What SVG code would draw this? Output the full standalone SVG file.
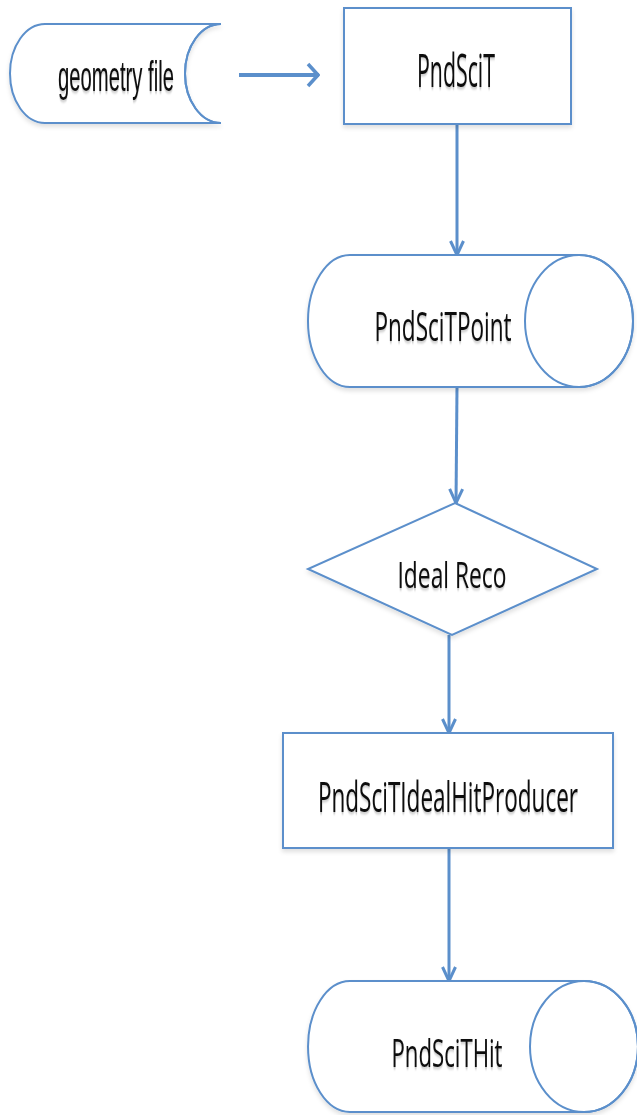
<svg xmlns="http://www.w3.org/2000/svg" width="637" height="1115" viewBox="0 0 637 1115">
  <style>
    .shape { fill: #ffffff; stroke: #5b8fcb; stroke-width: 2; filter: url(#soft); }
    .rim { fill: none; stroke: #5b8fcb; stroke-width: 2; }
    .edge { fill: none; stroke: #5b8fcb; stroke-width: 3; marker-end: url(#chev-v); }
    .edge-h { fill: none; stroke: #5b8fcb; stroke-width: 4; marker-end: url(#chev-h); }
    .lbl { fill: #111111; font-family: "Open Sans", "Noto Sans", sans-serif; text-anchor: middle; filter: url(#tshadow); }
    .lbl-arial { fill: #111111; font-family: "Liberation Sans", Arial, sans-serif; text-anchor: middle; filter: url(#tshadow); }
  </style>
  <defs>
    <filter id="soft" x="-10%" y="-10%" width="120%" height="130%">
      <feDropShadow dx="0" dy="3" stdDeviation="2" flood-color="#000000" flood-opacity="0.12"/>
    </filter>
    <filter id="tshadow" x="-10%" y="-20%" width="120%" height="160%">
      <feDropShadow dx="0" dy="2" stdDeviation="1.5" flood-color="#000000" flood-opacity="0.25"/>
    </filter>
    <!-- open chevron heads, sized in user units -->
    <marker id="chev-v" viewBox="0 0 18 16" refX="17" refY="8" markerWidth="18" markerHeight="16" markerUnits="userSpaceOnUse" orient="auto">
      <path d="M2,1.5 L16,8 L2,14.5" fill="none" stroke="#5b8fcb" stroke-width="3" stroke-linejoin="miter"/>
    </marker>
    <marker id="chev-h" viewBox="0 0 14 26" refX="13" refY="13" markerWidth="14" markerHeight="26" markerUnits="userSpaceOnUse" orient="auto">
      <path d="M2,2 L12,13 L2,24" fill="none" stroke="#5b8fcb" stroke-width="3.5" stroke-linejoin="miter"/>
    </marker>
  </defs>

  <!-- connectors -->
  <g id="connectors">
    <line class="edge-h" x1="239" y1="75" x2="319" y2="75"/>
    <line class="edge" x1="457" y1="124" x2="457" y2="256"/>
    <line class="edge" x1="457" y1="387" x2="456" y2="504"/>
    <line class="edge" x1="449" y1="635" x2="449" y2="734"/>
    <line class="edge" x1="449" y1="848" x2="449" y2="982"/>
  </g>

  <!-- stored data: geometry file -->
  <g id="geometry-file">
    <path class="shape" d="M221,24 L45,24 A35,49.5 0 0 0 45,123 L221,123 A36,49.5 0 0 1 221,24 Z"/>
    <path class="rim" d="M221,24 A36,49.5 0 0 0 221,123"/>
    <g transform="translate(116,91) scale(0.5,1)">
      <text class="lbl-arial" x="0" y="0" font-size="42" textLength="232" lengthAdjust="spacingAndGlyphs">geometry file</text>
    </g>
  </g>

  <!-- process: PndSciT -->
  <g id="pndscit">
    <rect class="shape" x="344" y="8" width="227" height="116"/>
    <g transform="translate(456,87) scale(0.5,1)">
      <text class="lbl" x="0" y="0" font-size="45" textLength="156" lengthAdjust="spacingAndGlyphs">PndSciT</text>
    </g>
  </g>

  <!-- direct-access storage: PndSciTPoint -->
  <g id="pndscitpoint">
    <path class="shape" d="M350,255 L579,255 A54,66 0 0 1 579,387 L350,387 A42,66 0 0 1 350,255 Z"/>
    <ellipse class="rim" cx="579" cy="321" rx="54" ry="66"/>
    <g transform="translate(443,341) scale(0.5,1)">
      <text class="lbl" x="0" y="0" font-size="41" textLength="274" lengthAdjust="spacingAndGlyphs">PndSciTPoint</text>
    </g>
  </g>

  <!-- decision: Ideal Reco -->
  <g id="ideal-reco">
    <polygon class="shape" points="455,503 597,569 452,635 308,569"/>
    <g transform="translate(452,588) scale(0.5,1)">
      <text class="lbl" x="0" y="0" font-size="37" textLength="218" lengthAdjust="spacingAndGlyphs">Ideal Reco</text>
    </g>
  </g>

  <!-- process: PndSciTIdealHitProducer -->
  <g id="pndscitidealhitproducer">
    <rect class="shape" x="283" y="733" width="330" height="115"/>
    <g transform="translate(448,812) scale(0.5,1)">
      <text class="lbl" x="0" y="0" font-size="42" textLength="520" lengthAdjust="spacingAndGlyphs">PndSciTIdealHitProducer</text>
    </g>
  </g>

  <!-- direct-access storage: PndSciTHit -->
  <g id="pndscithit">
    <path class="shape" d="M350,981 L584,981 A54,65.5 0 0 1 584,1112 L350,1112 A42,65.5 0 0 1 350,981 Z"/>
    <ellipse class="rim" cx="584" cy="1046.5" rx="54" ry="65.5"/>
    <g transform="translate(447,1067) scale(0.5,1)">
      <text class="lbl" x="0" y="0" font-size="38" textLength="222" lengthAdjust="spacingAndGlyphs">PndSciTHit</text>
    </g>
  </g>
</svg>
